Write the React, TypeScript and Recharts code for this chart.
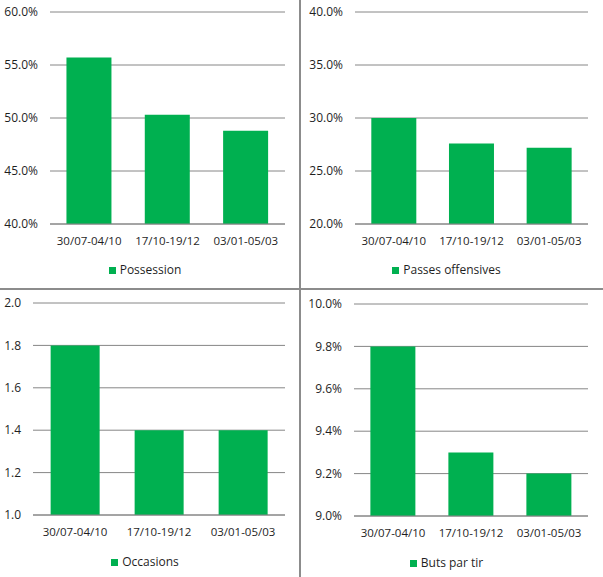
import React from 'react';
import { BarChart, Bar, XAxis, YAxis, CartesianGrid, Legend } from 'recharts';

// périodes
const periods = ['30/07-04/10', '17/10-19/12', '03/01-05/03'];

const possession = [55.7, 50.3, 48.8];
const passesOffensives = [30.0, 27.6, 27.2];
const occasions = [1.8, 1.4, 1.4];
const butsParTir = [9.8, 9.3, 9.2];

const possessionTicks = [40, 45, 50, 55, 60];
const passesTicks = [20, 25, 30, 35, 40];
const occasionsTicks = [1.0, 1.2, 1.4, 1.6, 1.8, 2.0];
const butsTicks = [9.0, 9.2, 9.4, 9.6, 9.8, 10.0];

const GREEN = '#00B050';
const GRID = '#868686';
const TEXT = '#1f1f1f';
const FONT = "'Open Sans', sans-serif";

const pct = (v: number) => `${v.toFixed(1)}%`;
const dec = (v: number) => v.toFixed(1);

interface PanelProps {
  name: string;
  values: number[];
  ticks: number[];
  format: (v: number) => string;
  width: number;
  height: number;
  margin: { top: number; right: number; bottom: number; left: number };
  yWidth: number;
  legendTop: number;
}

const Panel: React.FC<PanelProps> = ({ name, values, ticks, format, width, height, margin, yWidth, legendTop }) => {
  const data = periods.map((p, i) => ({ period: p, value: values[i] }));
  return (
    <BarChart width={width} height={height} data={data} margin={margin} barCategoryGap="21%">
      <CartesianGrid vertical={false} stroke={GRID} />
      <XAxis
        dataKey="period"
        tickLine={false}
        tickSize={0}
        tickMargin={13}
        axisLine={{ stroke: GRID }}
        tick={{ fill: TEXT, fontSize: 11.5, fontFamily: FONT }}
        interval={0}
      />
      <YAxis
        width={yWidth}
        domain={[ticks[0], ticks[ticks.length - 1]]}
        ticks={ticks}
        tickFormatter={format}
        tickLine={false}
        tickSize={0}
        tickMargin={12}
        axisLine={false}
        tick={{ fill: TEXT, fontSize: 12, fontFamily: FONT }}
      />
      <Legend
        layout="horizontal"
        verticalAlign="middle"
        align="center"
        iconType="square"
        iconSize={7}
        wrapperStyle={{ top: legendTop, left: 0, width: width, fontFamily: FONT, fontSize: 12 }}
        formatter={(v) => <span style={{ color: TEXT }}>{v}</span>}
      />
      <Bar dataKey="value" name={name} fill={GREEN} isAnimationActive={false} />
    </BarChart>
  );
};

export default function App() {
  return (
    <div style={{ position: 'absolute', left: 0, top: 0, width: 603, height: 577, background: '#fff', fontFamily: FONT }}>
      <div style={{ position: 'absolute', left: 0, top: 0 }}>
        <Panel
          name="Possession"
          values={possession}
          ticks={possessionTicks}
          format={pct}
          width={300}
          height={289}
          margin={{ top: 12, right: 15, bottom: 35, left: 0 }}
          yWidth={50}
          legendTop={261}
        />
      </div>
      <div style={{ position: 'absolute', left: 300, top: 0 }}>
        <Panel
          name="Passes offensives"
          values={passesOffensives}
          ticks={passesTicks}
          format={pct}
          width={303}
          height={289}
          margin={{ top: 12, right: 15, bottom: 35, left: 0 }}
          yWidth={55}
          legendTop={261}
        />
      </div>
      <div style={{ position: 'absolute', left: 0, top: 289 }}>
        <Panel
          name="Occasions"
          values={occasions}
          ticks={occasionsTicks}
          format={dec}
          width={300}
          height={288}
          margin={{ top: 14, right: 15, bottom: 32, left: 0 }}
          yWidth={33}
          legendTop={264}
        />
      </div>
      <div style={{ position: 'absolute', left: 300, top: 289 }}>
        <Panel
          name="Buts par tir"
          values={butsParTir}
          ticks={butsTicks}
          format={pct}
          width={303}
          height={288}
          margin={{ top: 15, right: 15, bottom: 31, left: 0 }}
          yWidth={54}
          legendTop={265}
        />
      </div>
      {/* séparateurs */}
      <div style={{ position: 'absolute', left: 299, top: 0, width: 2, height: 577, background: '#8c8c8c' }} />
      <div style={{ position: 'absolute', left: 0, top: 288, width: 603, height: 2, background: '#8c8c8c' }} />
    </div>
  );
}
